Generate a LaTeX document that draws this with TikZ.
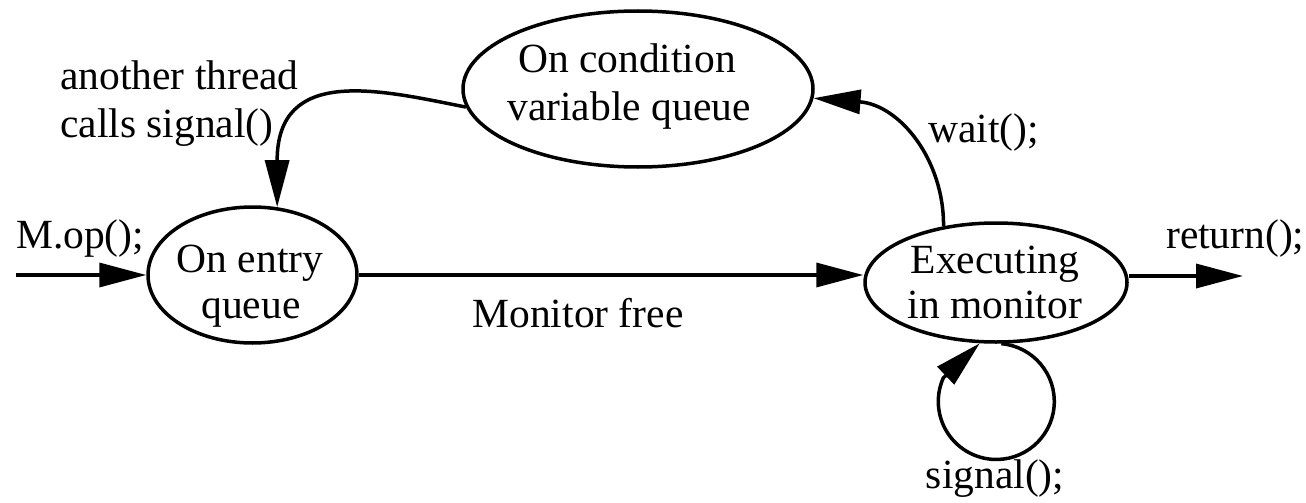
\documentclass[tikz,border=0pt]{standalone}
\usepackage{fontspec}
\setmainfont{Liberation Serif}
\usetikzlibrary{arrows.meta,shapes.geometric}
\begin{document}
\begin{tikzpicture}[x=1pt,y=-1pt,
  state/.style={draw, ellipse, line width=3.5pt, inner sep=0pt},
  lbl/.style={font=\fontsize{41.5}{46}\selectfont, inner sep=0pt, anchor=base},
  lblw/.style={lbl, anchor=base west},
  arr/.style={line width=3.5pt, -{Triangle[length=47pt,width=24pt]}}]
\useasboundingbox (0,0) rectangle (1306,503);
% states
\node[state, minimum width=209pt, minimum height=136pt] (entry) at (252.5,275) {};
\node[state, minimum width=350pt, minimum height=156pt] (cond) at (638,89) {};
\node[state, minimum width=262pt, minimum height=119pt] (exec) at (996,282.5) {};
% state texts
\node[lbl] (entry1) at (250,272) {On entry};
\node[lbl] (entry2) at (251,318) {queue};
\node[lbl] (cond1) at (627,73) {On condition};
\node[lbl] (cond2) at (629,120) {variable queue};
\node[lbl] (exec1) at (995,273) {Executing};
\node[lbl] (exec2) at (995,318) {in monitor};
% free ends
\coordinate (mstart) at (16,275);
\coordinate (retend) at (1243,276);
% connectors
\draw[arr] (mstart) -- (entry.west);
\draw[arr] (entry.east) -- (exec.west |- entry.east);
\draw[arr] (retend -| exec.east) -- (retend);
\draw[arr] (cond.186) .. controls (380,90) and (277,65) .. (entry.70);
\draw[arr] (exec.133) .. controls (944,160) and (900,105) .. (cond.357);
\draw[arr] (exec.-85) arc[start angle=-85, end angle=204, radius=58] -- (exec.-105);
% edge labels
\node[lblw] (l1) at (60,89) {another thread};
\node[lblw] (l2) at (60,137) {calls signal()};
\node[lblw] (l3) at (16,248) {M.op();};
\node[lbl] (l4) at (578,327) {Monitor free};
\node[lblw] (l5) at (928,142) {wait();};
\node[lblw] (l6) at (1166,248) {return();};
\node[lbl] (l7) at (995,488) {signal();};
\end{tikzpicture}
\end{document}
